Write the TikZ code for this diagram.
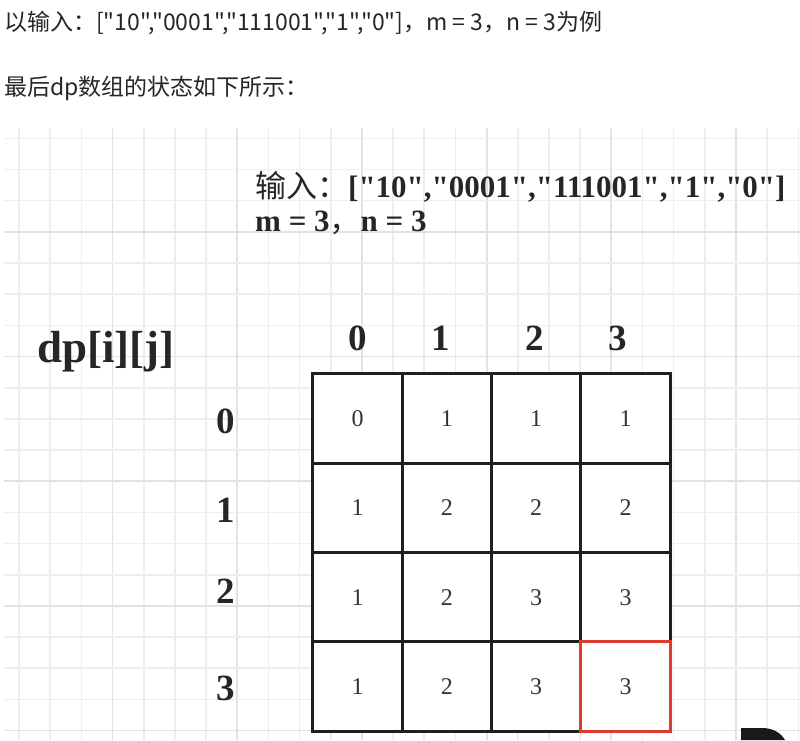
\documentclass[tikz,border=0pt]{standalone}
\usepackage{fontspec}
\setmainfont{Liberation Serif}[Ligatures=TeXOff]
\newfontfamily\cjk{Noto Sans CJK SC}
\definecolor{gridminor}{HTML}{EEEEEE}
\definecolor{gridmajor}{HTML}{E2E2E2}
\definecolor{cellred}{HTML}{E0392F}

\begin{document}
\begin{tikzpicture}[x=1pt, y=-1pt,
    minor/.style={draw=gridminor, line width=1.6pt},
    major/.style={draw=gridmajor, line width=1.8pt},
    cell/.style={draw=black!88, line width=3pt, fill=white, minimum size=89.3pt, inner sep=0pt, text=black!80, font=\fontsize{24}{24}\selectfont},
    idx/.style={anchor=base, inner sep=0pt, text=black!85, font=\bfseries\fontsize{37}{37}\selectfont}]
\useasboundingbox (0,0) rectangle (800,740);

% text above the picture
\node [anchor=base west, inner sep=0pt, text=black!85, font=\cjk\fontsize{23}{23}\selectfont] (intro) at (4,30) {以输入：["10","0001","111001","1","0"]，m = 3，n = 3为例};
\node [anchor=base west, inner sep=0pt, text=black!85, font=\cjk\fontsize{23}{23}\selectfont] (final) at (4,95) {最后dp数组的状态如下所示：};

% background grid
	\draw [minor] (19,128) -- (19,740);
	\draw [minor] (50.2,128) -- (50.2,740);
	\draw [minor] (81.3,128) -- (81.3,740);
	\draw [major] (112.5,128) -- (112.5,740);
	\draw [minor] (143.7,128) -- (143.7,740);
	\draw [minor] (174.9,128) -- (174.9,740);
	\draw [minor] (206,128) -- (206,740);
	\draw [major] (237.2,128) -- (237.2,740);
	\draw [minor] (268.4,128) -- (268.4,740);
	\draw [minor] (299.5,128) -- (299.5,740);
	\draw [minor] (330.7,128) -- (330.7,740);
	\draw [major] (361.9,128) -- (361.9,740);
	\draw [minor] (393,128) -- (393,740);
	\draw [minor] (424.2,128) -- (424.2,740);
	\draw [minor] (455.4,128) -- (455.4,740);
	\draw [major] (486.6,128) -- (486.6,740);
	\draw [minor] (517.7,128) -- (517.7,740);
	\draw [minor] (548.9,128) -- (548.9,740);
	\draw [minor] (580.1,128) -- (580.1,740);
	\draw [major] (611.2,128) -- (611.2,740);
	\draw [minor] (642.4,128) -- (642.4,740);
	\draw [minor] (673.6,128) -- (673.6,740);
	\draw [minor] (704.7,128) -- (704.7,740);
	\draw [major] (735.9,128) -- (735.9,740);
	\draw [minor] (767.1,128) -- (767.1,740);
	\draw [minor] (798.3,128) -- (798.3,740);
	\draw [minor] (4,138.3) -- (800,138.3);
	\draw [minor] (4,169.5) -- (800,169.5);
	\draw [minor] (4,200.6) -- (800,200.6);
	\draw [major] (4,231.8) -- (800,231.8);
	\draw [minor] (4,263) -- (800,263);
	\draw [minor] (4,294.2) -- (800,294.2);
	\draw [minor] (4,325.3) -- (800,325.3);
	\draw [major] (4,356.5) -- (800,356.5);
	\draw [minor] (4,387.7) -- (800,387.7);
	\draw [minor] (4,418.8) -- (800,418.8);
	\draw [minor] (4,450) -- (800,450);
	\draw [major] (4,481.2) -- (800,481.2);
	\draw [minor] (4,512.3) -- (800,512.3);
	\draw [minor] (4,543.5) -- (800,543.5);
	\draw [minor] (4,574.7) -- (800,574.7);
	\draw [major] (4,605.9) -- (800,605.9);
	\draw [minor] (4,637) -- (800,637);
	\draw [minor] (4,668.2) -- (800,668.2);
	\draw [minor] (4,699.4) -- (800,699.4);
	\draw [major] (4,730.5) -- (800,730.5);

% input and sizes
\node [anchor=base west, inner sep=0pt, text=black!85, font=\bfseries\fontsize{31}{31}\selectfont] (input) at (255,197) {{\cjk\mdseries 输入：}["10","0001","111001","1","0"]};
\node [anchor=base west, inner sep=0pt, text=black!85, font=\bfseries\fontsize{31}{31}\selectfont] (sizes) at (255,231) {m = 3{\cjk\mdseries ，}n = 3};

\node [anchor=base west, inner sep=0pt, text=black!85, font=\bfseries\fontsize{45}{45}\selectfont] (dp) at (37,362) {dp[i][j]};

% column and row indices
	\node [idx] (col0) at (358,350) {0};
	\node [idx] (col1) at (441,350) {1};
	\node [idx] (col2) at (535,350) {2};
	\node [idx] (col3) at (618,350) {3};
	\node [idx] (row0) at (226,433) {0};
	\node [idx] (row1) at (226,522) {1};
	\node [idx] (row2) at (226,603) {2};
	\node [idx] (row3) at (226,700) {3};

% dp table
	\node [cell] (c00) at (357.6,418.6) {0};
	\node [cell] (c01) at (446.9,418.6) {1};
	\node [cell] (c02) at (536.2,418.6) {1};
	\node [cell] (c03) at (625.5,418.6) {1};
	\node [cell] (c10) at (357.6,507.9) {1};
	\node [cell] (c11) at (446.9,507.9) {2};
	\node [cell] (c12) at (536.2,507.9) {2};
	\node [cell] (c13) at (625.5,507.9) {2};
	\node [cell] (c20) at (357.6,597.2) {1};
	\node [cell] (c21) at (446.9,597.2) {2};
	\node [cell] (c22) at (536.2,597.2) {3};
	\node [cell] (c23) at (625.5,597.2) {3};
	\node [cell] (c30) at (357.6,686.5) {1};
	\node [cell] (c31) at (446.9,686.5) {2};
	\node [cell] (c32) at (536.2,686.5) {3};
	\node [cell, draw=cellred] (c33) at (625.5,686.5) {3};

% corner of a dark mark, cut off at the edge
\fill [black!90] (741,728) -- (762,728) .. controls (773,728) and (781,733) .. (785,740) -- (741,740) -- cycle;

\end{tikzpicture}
\end{document}
